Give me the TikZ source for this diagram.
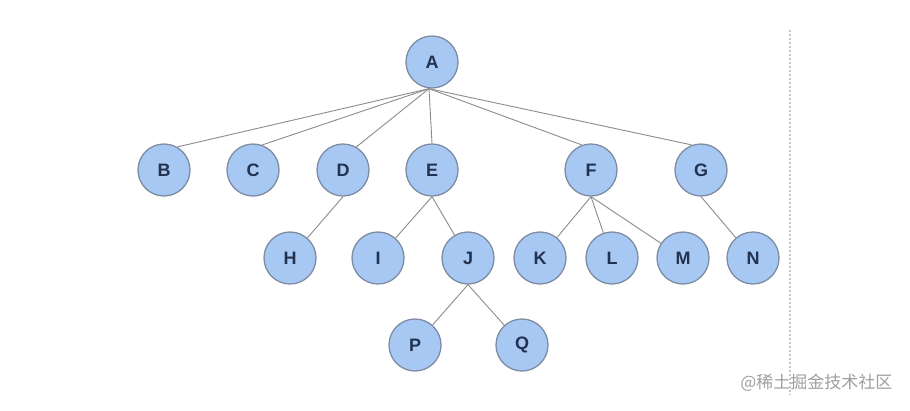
\documentclass[tikz,border=0pt]{standalone}
\usepackage{fontspec}
\setmainfont{Liberation Sans}
\newfontfamily\cjk{Noto Sans CJK SC}
\definecolor{nodefill}{HTML}{A8C8F4}
\definecolor{nodeedge}{HTML}{7D8CA3}
\definecolor{nodetext}{HTML}{22324F}
\definecolor{edgecol}{HTML}{8E8C8A}
\begin{document}
\begin{tikzpicture}[x=1pt,y=-1pt,
  tnode/.style={circle,draw=nodeedge,line width=1.3pt,fill=nodefill,minimum size=52pt,inner sep=0pt,
    font=\fontsize{18}{18}\selectfont\bfseries,text=nodetext},
  tedge/.style={draw=edgecol,line width=0.9pt}]
\useasboundingbox (0,0) rectangle (910,410);
\fill[white] (0,0) rectangle (910,410);
\coordinate (d1) at (790,30);
\coordinate (d2) at (790,395);
\draw[gray!45,line width=1.2pt,dash pattern=on 1.5pt off 2.5pt] (d1) -- (d2);
\node[tnode] (A) at (432,62) {A};
\node[tnode] (B) at (164,170) {B};
\node[tnode] (C) at (253,170) {C};
\node[tnode] (D) at (343,170) {D};
\node[tnode] (E) at (432,170) {E};
\node[tnode] (F) at (591,170) {F};
\node[tnode] (G) at (701,170) {G};
\node[tnode] (H) at (290,258) {H};
\node[tnode] (I) at (378,258) {I};
\node[tnode] (J) at (468,258) {J};
\node[tnode] (K) at (540,258) {K};
\node[tnode] (L) at (612,258) {L};
\node[tnode] (M) at (683,258) {M};
\node[tnode] (N) at (753,258) {N};
\node[tnode] (P) at (415,345) {P};
\node[tnode] (Q) at (522,345) {Q};
\coordinate (Ab) at ([xshift=-3pt]A.south);
\draw[tedge] (Ab) -- (B.60);
\draw[tedge] (Ab) -- (C.70);
\draw[tedge] (Ab) -- (D.60);
\draw[tedge] (Ab) -- (E.north);
\draw[tedge] (Ab) -- (F.110);
\draw[tedge] (Ab) -- (G.110);
\draw[tedge] (D.south) -- (H);
\draw[tedge] (E.south) -- (I);
\draw[tedge] (E.south) -- (J);
\foreach \c in {K,L,M} \draw[tedge] (F.south) -- (\c);
\draw[tedge] (G.south) -- (N);
\draw[tedge] (J.south) -- (P);
\draw[tedge] (J.south) -- (Q);
\node[font=\cjk\fontsize{17}{17}\selectfont,text=gray!75,anchor=east] (wm) at (896,383) {@稀土掘金技术社区};
\end{tikzpicture}
\end{document}
